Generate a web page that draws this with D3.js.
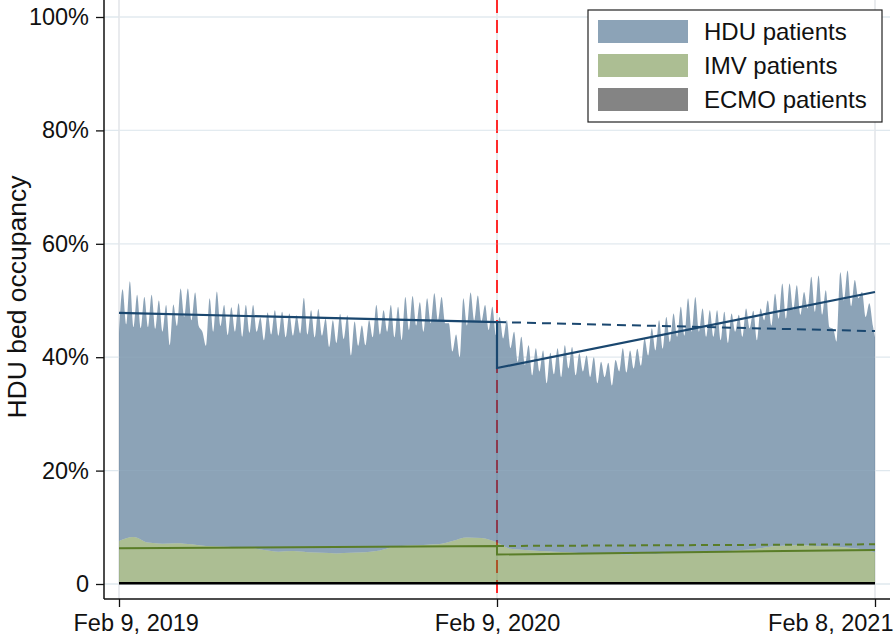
<!DOCTYPE html>
<html>
<head>
<meta charset="utf-8">
<script src="https://cdn.jsdelivr.net/npm/d3@7"></script>
<style>
  body { margin: 0; background: #fff; }
  text { font-family: "Liberation Sans", Arial, sans-serif; fill: #111; }
</style>
</head>
<body>
<script>
// ---- data (% of HDU beds) ----
// weekly weekend low (day 7*i) and mid-week high (day 7*i+3.5), Feb 9 2019 = day 0
var hduLow = [44.2,45.8,45.3,45.1,45.3,45,44.5,42.1,45.5,47.1,46.5,45.5,42,44.5,45.5,43.9,44.5,43.6,44.3,44.5,43,44,
  43.8,43.5,43.8,44.2,44,43.5,43.8,41.8,42.5,43.2,40.3,42,42.1,43.5,44,44.5,43.5,43,44.8,45.6,44.5,
  46,46.5,46,41,40,45.6,46.5,46.3,44.8,43.9,43.3,41.6,39.2,38.6,36.8,37.5,35.4,37,36.5,38,
  36.8,37.5,36.5,35.4,36.5,35,37.5,37.3,38,38.5,40.3,41.2,41.5,42.7,43.6,43.8,44.5,44.5,43.6,43.6,43,42.5,
  44.5,43.6,45.1,43,46.5,45.6,46.8,46.8,48.3,47.5,48.6,48,47.5,45.3,42.7,50,49,50.4,47.1,45.5];
var hduHigh = [52,53.4,51,50.6,51,50,49.2,49.3,52.1,52.1,51.4,44.5,50.4,51.6,49.2,48.8,49.5,49.2,49.2,47,47.9,
  48.3,48,47.7,47.4,50.5,48.3,48.5,46.8,46.5,47.6,47.4,46.3,45.6,46.5,49.2,48.3,49.2,48.9,50.6,50.8,49.7,
  50.4,51.3,50.6,46,44,50.4,51.4,50.9,49.2,48.9,47.1,46.5,44.5,43.6,42.1,41.6,41.2,40.8,41.6,42.1,
  41.8,40.7,40.3,40,39.2,39,39.5,41.6,41.2,41.5,43.3,45.1,46.5,47.1,47.7,48.9,50.4,50.6,48.6,48.3,48.3,48,
  47.7,47.5,48.6,48.2,48.6,50,51.2,53,53,52.7,51.5,54.2,54.4,51.8,45,55,55.3,53.6,51.5,49.5,43.5];
// IMV patients, every 14 days
var imv = [7.6,8.3,7.3,7.1,7.2,7.0,6.7,6.6,6.5,6.4,6.0,5.7,5.8,5.6,5.5,5.4,5.5,5.6,5.9,6.6,
  6.8,6.9,7.0,7.6,8.2,8.1,7.4,6.2,6.0,5.8,5.7,5.6,5.4,5.3,5.4,5.2,5.4,5.3,5.5,5.6,
  5.5,5.6,5.8,6.0,6.2,6.6,6.8,6.9,6.7,6.6,6.5,6.2,5.6];
// ECMO patients, quarterly
var ecmo = [0.2,0.15,0.2,0.2,0.25,0.2,0.15,0.2,0.2];

// fitted lines: pre start, pre end (Feb 9 2020), post start, post end
var fitDays = [0, 365, 365, 730];
var hduFit = [47.8, 46.2, 38.1, 51.5];
var imvFit = [6.3, 6.7, 5.2, 6.0];
var ecmoFit = [0.15, 0.15, 0.15, 0.15];
// counterfactual continuation of the pre-period line
var cfDays = [365, 730];
var hduCf = [46.2, 44.6];
var imvCf = [6.7, 7.0];

var yTicks = [0, 20, 40, 60, 80, 100];
var xTickDays = [0, 365, 730];
var legendLabels = ["HDU patients", "IMV patients", "ECMO patients"];

// ---- setup ----
var width = 896, height = 636;
var start = Date.UTC(2019, 1, 9), DAY = 864e5;
function day(d) { return new Date(start + d * DAY); }

var x = d3.scaleUtc().domain([day(0), day(730)]).range([119, 875]);
var y = d3.scaleLinear().domain([0, 100]).range([584, 17]);

var navy = "rgb(26,71,111)", green = "rgb(90,125,40)";

var svg = d3.select("body").append("svg")
    .attr("width", width)
    .attr("height", height);

var hduPts = [];
hduLow.forEach(function(v, i) {
  hduPts.push({d: 7 * i, v: v});
  hduPts.push({d: Math.min(7 * i + 3.5, 730), v: hduHigh[i]});
});
var imvPts = imv.map(function(v, i) { return {d: i == imv.length - 1 ? 730 : i * 14, v: v}; });
var ecmoPts = ecmo.map(function(v, i) { return {d: i * 730 / (ecmo.length - 1), v: v}; });

// gridlines (under)
svg.append("g").selectAll("line").data(yTicks).enter().append("line")
    .attr("x1", 104).attr("x2", 890)
    .attr("y1", d => y(d)).attr("y2", d => y(d))
    .attr("stroke", "#dfe8ee").attr("stroke-width", 1.3);
svg.append("g").selectAll("line").data(xTickDays).enter().append("line")
    .attr("x1", d => x(day(d))).attr("x2", d => x(day(d)))
    .attr("y1", 0).attr("y2", 599)
    .attr("stroke", "#e2e5e8").attr("stroke-width", 1.5);

// policy date marker
svg.append("line")
    .attr("x1", x(day(365))).attr("x2", x(day(365)))
    .attr("y1", 0).attr("y2", 599)
    .attr("stroke", "#ff2a2a").attr("stroke-width", 2)
    .attr("stroke-dasharray", "13,7");

var area = d3.area()
    .curve(d3.curveMonotoneX)
    .x(d => x(day(d.d)))
    .y0(y(0))
    .y1(d => y(d.v));

// mask so the HDU area sits above the IMV area
var mask = svg.append("defs").append("mask").attr("id", "aboveImv");
mask.append("rect").attr("width", width).attr("height", height).attr("fill", "#fff");
mask.append("path").datum(imvPts).attr("d", area).attr("fill", "#000");

svg.append("path").datum(imvPts)
    .attr("d", area)
    .attr("fill", green).attr("fill-opacity", 0.5);
svg.append("path").datum(hduPts)
    .attr("d", area)
    .attr("mask", "url(#aboveImv)")
    .attr("fill", navy).attr("fill-opacity", 0.5);
svg.append("path").datum(ecmoPts)
    .attr("d", area)
    .attr("fill", "#555").attr("fill-opacity", 0.6);

// faint gridlines over the areas
svg.append("g").selectAll("line").data(yTicks.slice(1)).enter().append("line")
    .attr("x1", 119).attr("x2", 875)
    .attr("y1", d => y(d)).attr("y2", d => y(d))
    .attr("stroke", "#fff").attr("stroke-opacity", 0.15).attr("stroke-width", 1.3);

// fitted lines
var line = d3.line().x(d => x(day(d[0]))).y(d => y(d[1]));
function drawFit(vals, days, col, dash, w) {
  svg.append("path")
      .datum(days.map((d, i) => [d, vals[i]]))
      .attr("d", line)
      .attr("fill", "none")
      .attr("stroke", col)
      .attr("stroke-width", w)
      .attr("stroke-dasharray", dash);
}
drawFit(hduCf, cfDays, navy, "9,6", 2);
drawFit(hduFit, fitDays, navy, null, 2.2);
drawFit(imvCf, cfDays, green, "7,5", 2);
drawFit(imvFit, fitDays, green, null, 2);
drawFit(ecmoFit, fitDays, "#000", null, 2.5);

// axes
var yAxis = svg.append("g")
    .attr("transform", "translate(104,0)")
    .call(d3.axisLeft(y).tickValues(yTicks).tickSize(8).tickSizeOuter(0).tickPadding(7)
      .tickFormat(d => d == 0 ? "0" : d + "%"));
var xAxis = svg.append("g")
    .attr("transform", "translate(0,599)")
    .call(d3.axisBottom(x).tickValues(xTickDays.map(day)).tickSize(8).tickSizeOuter(0).tickPadding(7)
      .tickFormat(d3.utcFormat("%b %-d, %Y")));
[yAxis, xAxis].forEach(function(g) {
  g.select(".domain").remove();
  g.selectAll(".tick line").attr("stroke", "#111").attr("stroke-width", 1.3);
  g.selectAll("text").style("font-size", "23.5px").attr("fill", "#111");
});
// end labels are pulled inside the frame, as in the original
xAxis.selectAll(".tick text")
    .attr("text-anchor", (d, i) => i == 0 ? "start" : i == 2 ? "end" : "middle")
    .attr("x", (d, i) => i == 0 ? -46 : i == 2 ? 18 : 0);
svg.append("line").attr("x1", 104).attr("x2", 104).attr("y1", 0).attr("y2", 599)
    .attr("stroke", "#111").attr("stroke-width", 1.5);
svg.append("line").attr("x1", 104).attr("x2", 890).attr("y1", 599).attr("y2", 599)
    .attr("stroke", "#111").attr("stroke-width", 1.5);

svg.append("text")
    .attr("transform", "translate(26,297) rotate(-90)")
    .attr("text-anchor", "middle")
    .style("font-size", "26.5px")
    .text("HDU bed occupancy");

// legend
var legend = svg.append("g").attr("transform", "translate(588,10)");
legend.append("rect").attr("width", 294).attr("height", 112)
    .attr("fill", "#fff").attr("stroke", "#222").attr("stroke-width", 1.2);
var swatch = [{c: navy, o: 0.5}, {c: green, o: 0.5}, {c: "#0a0a0a", o: 0.5}];
var rows = legend.selectAll("g.row").data(legendLabels).enter().append("g")
    .attr("class", "row")
    .attr("transform", (d, i) => "translate(10," + (10 + i * 34) + ")");
rows.append("rect").attr("width", 90).attr("height", 23)
    .attr("fill", (d, i) => swatch[i].c).attr("fill-opacity", (d, i) => swatch[i].o);
rows.append("text").attr("x", 106).attr("y", 20)
    .style("font-size", "24px")
    .text(d => d);
</script>
</body>
</html>
